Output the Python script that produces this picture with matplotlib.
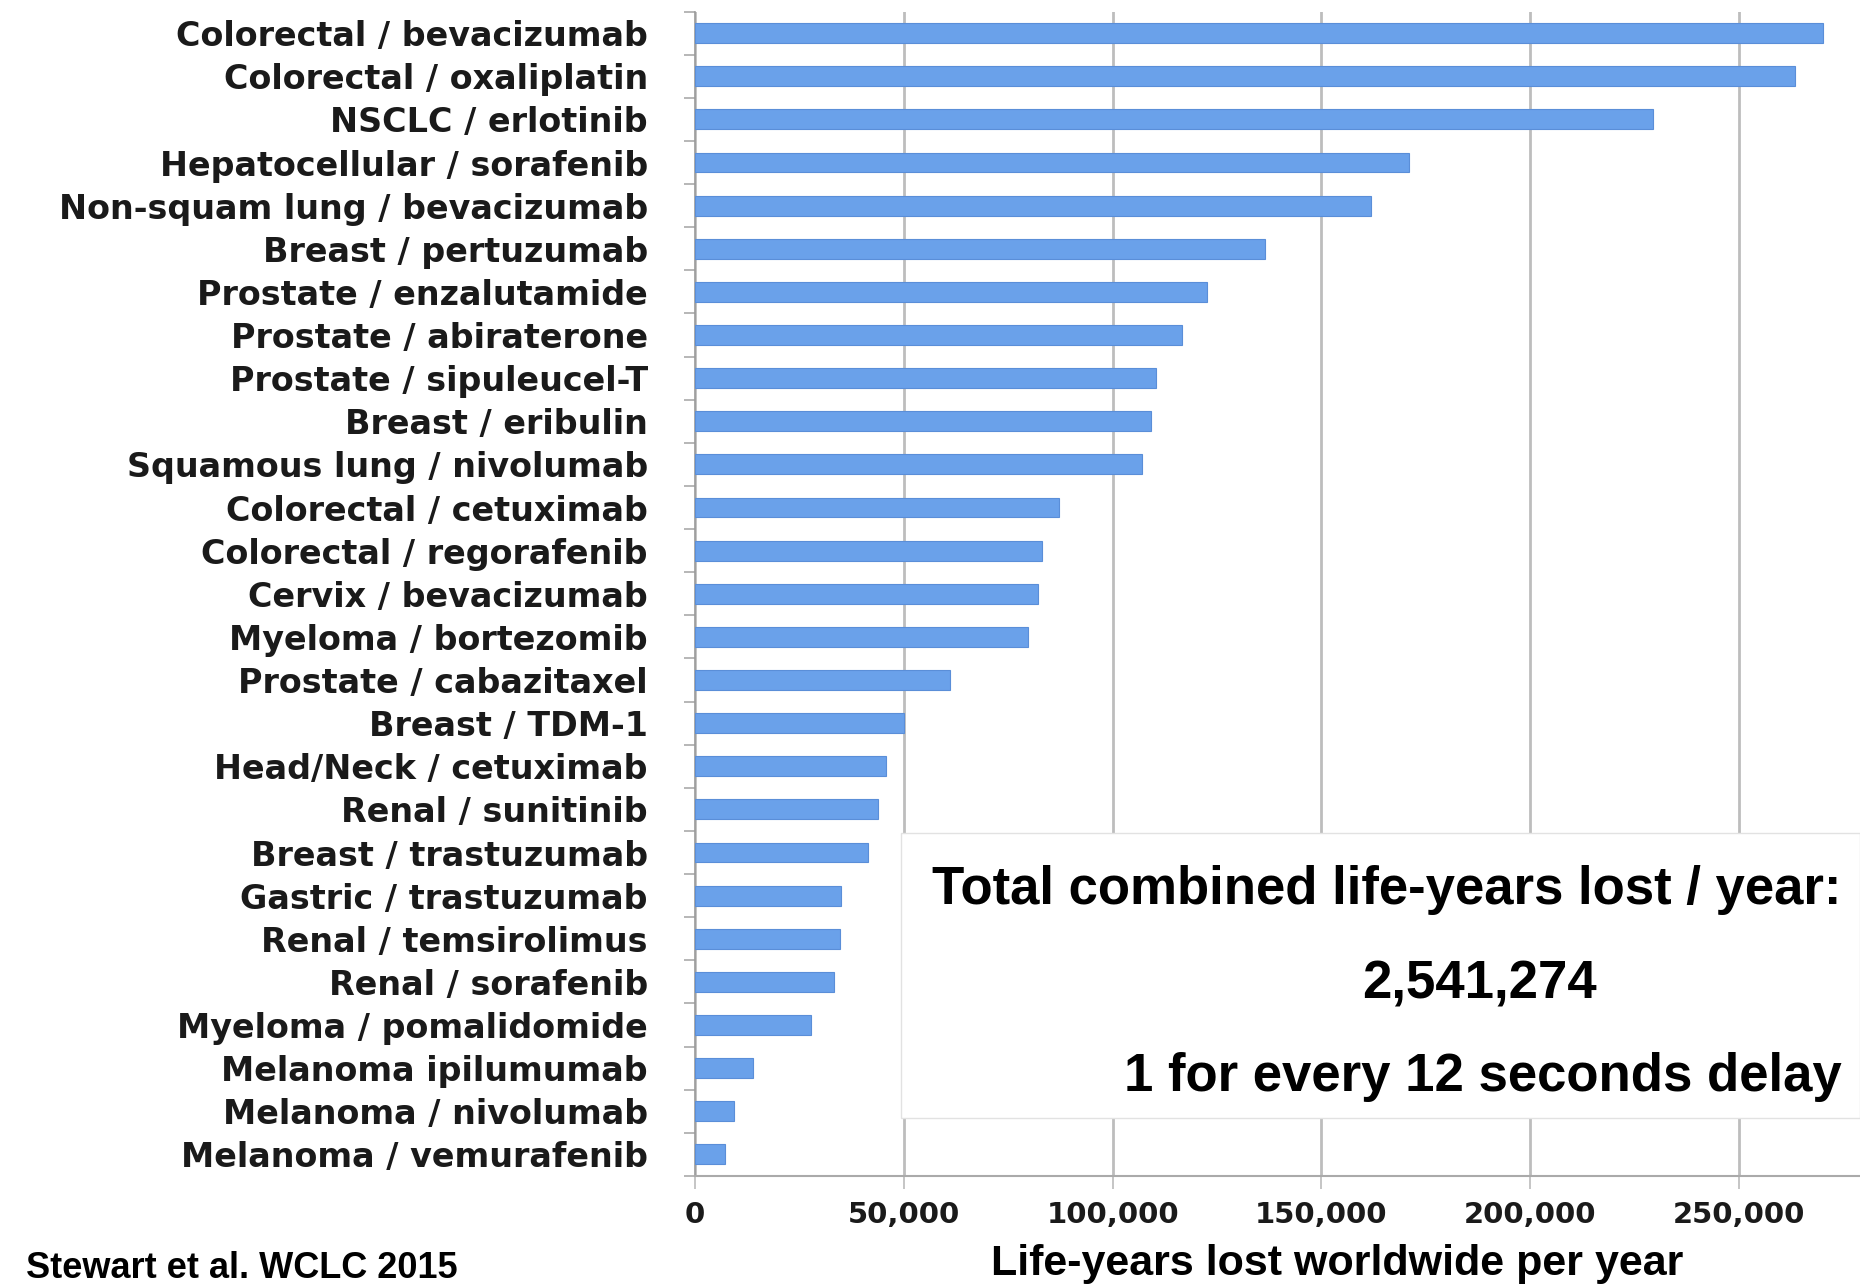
import matplotlib
matplotlib.use("Agg")
import matplotlib.pyplot as plt
from matplotlib.patches import Rectangle
from matplotlib.ticker import FuncFormatter

# indications / drugs, top to bottom as in the chart
labels = [
    "Colorectal / bevacizumab", "Colorectal / oxaliplatin", "NSCLC / erlotinib",
    "Hepatocellular / sorafenib", "Non-squam lung / bevacizumab", "Breast / pertuzumab",
    "Prostate / enzalutamide", "Prostate / abiraterone", "Prostate / sipuleucel-T",
    "Breast / eribulin", "Squamous lung / nivolumab", "Colorectal / cetuximab",
    "Colorectal / regorafenib", "Cervix / bevacizumab", "Myeloma / bortezomib",
    "Prostate / cabazitaxel", "Breast / TDM-1", "Head/Neck / cetuximab",
    "Renal / sunitinib", "Breast / trastuzumab", "Gastric / trastuzumab",
    "Renal / temsirolimus", "Renal / sorafenib", "Myeloma / pomalidomide",
    "Melanoma ipilumumab", "Melanoma / nivolumab", "Melanoma / vemurafenib",
]
# life-years lost worldwide per year
life_years = [
    270200, 263400, 229500, 171000, 161900, 136400,
    122700, 116500, 110500, 109100, 107100, 87200,
    83000, 82100, 79800, 61100, 50000, 45700,
    43700, 41500, 35000, 34700, 33200, 27800,
    13900, 9400, 7100,
]
xticks = [0, 50000, 100000, 150000, 200000, 250000]

box_lines = ["Total combined life-years lost / year:", "2,541,274",
             "1 for every 12 seconds delay"]

fig = plt.figure(figsize=(18.6, 12.88), dpi=100)
ax = fig.add_axes([0.3737, 0.087, 0.6263, 0.904])

y = list(range(len(labels)))
ax.barh(y, life_years, height=0.46, color="#6aa1ea", edgecolor="#5a8ed8",
        linewidth=0.8, zorder=3)

ax.set_xlim(0, 279000)
ax.set_ylim(len(labels) - 0.5, -0.5)

ax.set_xticks(xticks)
ax.xaxis.set_major_formatter(FuncFormatter(lambda v, p: f"{int(v):,}"))
ax.grid(axis="x", color="#bdbdbd", linewidth=2, zorder=0)
ax.set_axisbelow(True)

ax.set_yticks(y)
ax.set_yticklabels(labels)
ax.set_yticks([i - 0.5 for i in range(len(labels) + 1)], minor=True)
ax.tick_params(axis="y", which="major", length=0, pad=34)
ax.tick_params(axis="y", which="minor", length=8, color="#aaaaaa", width=1.2)
ax.tick_params(axis="x", length=9, color="#bbbbbb", width=1.2, pad=9)

for t in ax.get_yticklabels():
    t.set_fontfamily("DejaVu Sans")
    t.set_fontweight("bold")
    t.set_fontsize(24)
    t.set_color("#1a1a1a")
for t in ax.get_xticklabels():
    t.set_fontfamily("DejaVu Sans")
    t.set_fontweight("bold")
    t.set_fontsize(21)
    t.set_color("#1a1a1a")

for s in ["top", "right"]:
    ax.spines[s].set_visible(False)
ax.spines["left"].set_color("#999999")
ax.spines["left"].set_linewidth(1.2)
ax.spines["bottom"].set_color("#aaaaaa")
ax.spines["bottom"].set_linewidth(1.5)

# white box holding the totals
ax.add_patch(Rectangle((49400, 18.55), 279000 - 49400, 6.6, facecolor="white",
                       edgecolor="#e2e2e2", linewidth=1, zorder=5))

fig.text(0.99, 0.309, box_lines[0], ha="right", va="center", fontsize=38,
         fontweight="bold", family="Liberation Sans", zorder=6)
fig.text(0.7953, 0.236, box_lines[1], ha="center", va="center", fontsize=38,
         fontweight="bold", family="Liberation Sans", zorder=6)
fig.text(0.99, 0.164, box_lines[2], ha="right", va="center", fontsize=38,
         fontweight="bold", family="Liberation Sans", zorder=6)

fig.text(0.719, 0.019, "Life-years lost worldwide per year", ha="center",
         va="center", fontsize=31, fontweight="bold", family="Liberation Sans")
fig.text(0.014, 0.008, "Stewart et al. WCLC 2015", ha="left", va="baseline",
         fontsize=26, fontweight="bold", family="Liberation Sans")

fig.savefig("out.png", dpi=100)
